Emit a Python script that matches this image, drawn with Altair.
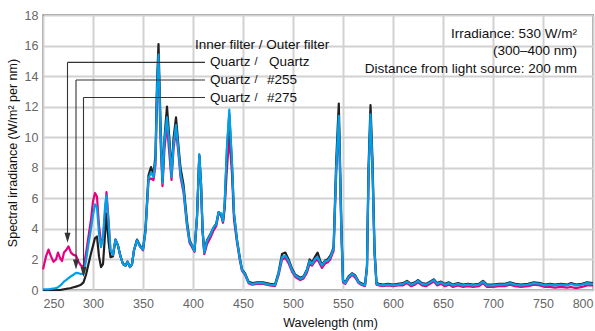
import altair as alt
import pandas as pd

# ---------------- data ----------------
wl_a = [250, 253, 255.5, 258, 260.5, 263, 265, 267, 269, 271, 273, 275.5, 278, 280.5, 283, 285.5,
        288, 290.5, 293, 295.5, 298, 300, 302, 304, 306, 308, 310, 312, 313.5, 315.5, 317.5, 320]
qq_a = [1.35, 2.2, 2.65, 2.2, 1.85, 2.0, 2.45, 2.1, 1.9, 2.45, 2.6, 2.85, 2.45, 2.3, 2.25, 1.85,
        1.6, 1.5, 2.4, 3.5, 4.6, 5.8, 6.35, 6.1, 4.2, 3.2, 3.3, 5.0, 6.4, 4.6, 2.5, 2.4]
q255_a = [0.05, 0.05, 0.05, 0.07, 0.1, 0.12, 0.18, 0.28, 0.4, 0.55, 0.65, 0.78, 0.9, 1.0, 1.12, 1.1,
          1.05, 1.05, 1.9, 3.0, 4.0, 4.9, 5.6, 5.4, 3.7, 2.8, 3.4, 5.4, 6.2, 4.4, 2.6, 2.3]
q275_a = [0, 0, 0, 0, 0, 0, 0, 0, 0.02, 0.05, 0.07, 0.1, 0.13, 0.18, 0.22, 0.28,
          0.35, 0.5, 1.0, 1.7, 2.4, 2.9, 3.4, 3.5, 2.2, 1.5, 1.7, 3.6, 5.0, 3.2, 2.15, 2.2]

wl_b = [322.5, 325, 327.5, 330, 332.5, 334.5, 337, 339, 341, 344, 347, 350, 352.5, 355.5, 358, 360.5,
        362.5, 364, 365.5, 367.5, 369.5, 371.5, 374, 376.5, 378.5, 380.5, 383, 385.5, 387.5, 390.5,
        394, 396.5, 399, 401.5, 404, 406.3, 408, 409.6, 411.3, 414, 417.3, 420.6, 423.3, 425.6, 428,
        430, 431.6, 434, 436.3, 439, 441, 444, 447, 449]
qq_b = [3.3, 2.9, 2.2, 1.7, 1.6, 1.85, 1.5, 1.7, 2.6, 3.25, 2.85, 2.6, 3.8, 7.2, 7.3, 7.2,
        8.2, 12.8, 15.3, 9.8, 6.8, 9.3, 10.8, 8.8, 7.2, 9.2, 10.5, 8.9, 7.4, 6.4,
        4.2, 3.1, 2.8, 2.5, 4.7, 8.8, 6.9, 3.8, 2.35, 3.0, 3.4, 3.9, 4.2, 5.0, 4.9,
        4.4, 5.3, 8.0, 10.0, 7.6, 4.6, 3.1, 1.9, 1.25]
q255_b = [3.3, 2.9, 2.2, 1.7, 1.6, 1.85, 1.5, 1.7, 2.6, 3.25, 2.85, 2.65, 3.9, 7.3, 7.7, 7.4,
          8.5, 13.0, 15.4, 10.5, 7.0, 9.8, 11.3, 9.4, 7.4, 9.5, 10.8, 9.1, 7.6, 6.6,
          4.3, 3.2, 2.9, 2.55, 4.8, 8.9, 7.0, 3.9, 2.45, 3.2, 3.6, 4.1, 4.3, 5.1, 5.0,
          4.5, 5.6, 9.4, 11.8, 8.3, 5.0, 3.25, 2.0, 1.3]
q275_b = [3.3, 2.9, 2.2, 1.7, 1.6, 1.85, 1.5, 1.7, 2.6, 3.3, 2.9, 2.7, 4.0, 7.5, 8.05, 7.6,
          8.8, 13.5, 16.1, 11.0, 7.1, 10.0, 12.0, 9.8, 7.6, 9.9, 11.3, 9.4, 8.0, 6.9,
          4.5, 3.3, 2.9, 2.6, 4.8, 8.8, 7.0, 3.9, 2.5, 3.25, 3.65, 4.1, 4.35, 5.1, 5.0,
          4.5, 5.5, 9.2, 11.5, 8.2, 5.0, 3.3, 2.05, 1.35]

wl_c = [452, 455.5, 459, 464, 470, 477, 482, 485.5, 489, 492.3, 495.6, 499, 502.3, 507.3, 510.6,
        514, 516.6, 519, 522.3, 524.6, 527.3, 529, 532.3, 534.6, 537.3, 539, 540.6, 543.3, 545.8,
        548.3, 550, 552.3, 555.6, 559, 562.3, 565.6, 568, 572, 574, 575.5, 577.5, 579.5, 581.5, 583.5]
qq_c = [1.0, 0.45, 0.35, 0.4, 0.4, 0.3, 0.25, 0.95, 2.0, 2.1, 1.75, 1.2, 0.85, 0.65, 0.75,
        1.15, 1.7, 1.6, 1.9, 2.0, 1.65, 1.45, 1.75, 1.8, 2.0, 2.3, 2.55, 7.8, 11.2,
        3.9, 0.5, 0.4, 0.75, 1.0, 0.8, 0.45, 0.35, 0.25, 1.4, 7.3, 11.3, 7.8, 2.4, 0.35]
q255_c = [1.05, 0.5, 0.4, 0.45, 0.45, 0.35, 0.3, 1.07, 2.15, 2.25, 1.9, 1.3, 0.95, 0.74, 0.85,
          1.3, 1.9, 1.7, 2.05, 2.15, 1.8, 1.6, 1.9, 1.9, 2.15, 2.45, 2.7, 8.1, 11.4,
          4.1, 0.6, 0.45, 0.85, 1.07, 0.9, 0.5, 0.4, 0.3, 1.5, 7.5, 11.5, 8.0, 2.5, 0.4]
q275_c = [1.1, 0.55, 0.45, 0.5, 0.5, 0.4, 0.35, 1.15, 2.35, 2.45, 2.0, 1.4, 1.0, 0.8, 0.9,
          1.35, 2.0, 1.8, 2.2, 2.45, 1.9, 1.65, 1.95, 2.0, 2.25, 2.5, 2.8, 8.6, 12.2,
          4.4, 0.65, 0.5, 0.9, 1.1, 0.95, 0.55, 0.45, 0.35, 1.6, 8.0, 12.1, 8.5, 2.7, 0.45]

wl_d = [586, 590, 595, 600, 605, 610, 614, 618, 622, 625, 629, 633, 637, 641, 644, 648, 652, 656,
        660, 665, 670, 675, 680, 686, 690, 694, 700, 706, 712, 717, 722, 728, 735, 741, 747, 752,
        757, 762, 768, 774, 778, 783, 789, 794, 800]
qq_d = [0.3, 0.25, 0.3, 0.25, 0.3, 0.3, 0.45, 0.25, 0.35, 0.5, 0.3, 0.25, 0.4, 0.55, 0.3, 0.4, 0.25, 0.35,
        0.2, 0.3, 0.2, 0.25, 0.2, 0.25, 0.45, 0.2, 0.2, 0.25, 0.25, 0.35, 0.25, 0.2, 0.25, 0.35, 0.3, 0.2,
        0.2, 0.15, 0.2, 0.15, 0.2, 0.12, 0.2, 0.3, 0.3]
q255_d = [0.35, 0.3, 0.35, 0.3, 0.35, 0.4, 0.55, 0.35, 0.45, 0.6, 0.4, 0.35, 0.5, 0.65, 0.4, 0.5, 0.35, 0.45,
          0.3, 0.4, 0.3, 0.35, 0.3, 0.35, 0.55, 0.3, 0.3, 0.35, 0.35, 0.45, 0.35, 0.3, 0.35, 0.45, 0.4, 0.3,
          0.35, 0.3, 0.35, 0.3, 0.4, 0.3, 0.35, 0.45, 0.4]
q275_d = [0.4, 0.35, 0.4, 0.35, 0.4, 0.45, 0.6, 0.4, 0.5, 0.65, 0.45, 0.4, 0.55, 0.7, 0.45, 0.55, 0.4, 0.5,
          0.35, 0.45, 0.35, 0.4, 0.35, 0.4, 0.6, 0.35, 0.35, 0.4, 0.4, 0.5, 0.4, 0.35, 0.4, 0.5, 0.45, 0.35,
          0.4, 0.35, 0.4, 0.35, 0.45, 0.35, 0.4, 0.5, 0.45]

# draw order: magenta (Quartz/Quartz), black (#275), cyan (#255) on top
draw_order = ["Quartz / Quartz", "Quartz / #275", "Quartz / #255"]
order_colors = {"Quartz / Quartz": "#e5007f", "Quartz / #275": "#231f20", "Quartz / #255": "#00a0e9"}

# annotation: leader lines (wavelength of arrow, level of horizontal line, arrow tip)
arrow_x = [274.5, 283.0, 290.5]
arrow_level = [14.9, 13.75, 12.6]
arrow_tip = [3.1, 1.35, 0.85]
leader_end = 412.0
label_left = ["Quartz", "Quartz", "Quartz"]
label_right = ["Quartz", "#255", "#275"]
label_right_x = [476, 474, 474]
header_text = "Inner filter / Outer filter"
info_text = ["Irradiance: 530 W/m\u00b2", "(300\u2013400 nm)", "Distance from light source: 200 mm"]
info_level = [16.75, 15.65, 14.45]

x_ticks = list(range(250, 801, 50))
y_ticks = list(range(0, 19, 2))

# ---------------- build tables ----------------
wl = wl_a + wl_b + wl_c + wl_d
vals = {
    "Quartz / Quartz": qq_a + qq_b + qq_c + qq_d,
    "Quartz / #255": q255_a + q255_b + q255_c + q255_d,
    "Quartz / #275": q275_a + q275_b + q275_c + q275_d,
}

FONT = "Liberation Sans"
xscale = alt.Scale(domain=[250, 800], nice=False, zero=False)
yscale = alt.Scale(domain=[0, 18], nice=False)
x_axis = alt.Axis(values=x_ticks, title="Wavelength (nm)", labelFlush=True,
                  labelPadding=7, titlePadding=7, titleX=287)
y_axis = alt.Axis(values=y_ticks, title="Spectral irradiance (W/m\u00b2 per nm)",
                  labelPadding=5, titlePadding=5)


def X(field):
    return alt.X(field, scale=xscale, axis=x_axis)


def Y(field):
    return alt.Y(field, scale=yscale, axis=y_axis)


layers = []
for name in draw_order:
    df = pd.DataFrame({"wl": wl, "v": vals[name]})
    layers.append(
        alt.Chart(df).mark_line(color=order_colors[name], strokeWidth=2.2, strokeJoin="round")
        .encode(x=X("wl:Q"), y=Y("v:Q"))
    )

seg_df = pd.DataFrame({
    "wl": arrow_x + arrow_x,
    "wl2": [leader_end] * 3 + arrow_x,
    "v": arrow_level + arrow_level,
    "v2": arrow_level + [t + 0.3 for t in arrow_tip],
})
leaders = alt.Chart(seg_df).mark_rule(color="#333333", strokeWidth=1.1).encode(
    x=X("wl:Q"), x2="wl2:Q", y=Y("v:Q"), y2="v2:Q",
)

head_df = pd.DataFrame({"wl": arrow_x, "v": arrow_tip})
heads = alt.Chart(head_df).mark_point(
    shape="M-0.3,-1L0.3,-1L0,0Z", filled=True, size=400, color="#333333", opacity=1
).encode(x=X("wl:Q"), y=Y("v:Q"))


def text_layer(df, align, size=13.5):
    return alt.Chart(df).mark_text(align=align, baseline="middle", font=FONT, fontSize=size,
                                   color="#111111").encode(x=X("wl:Q"), y=Y("v:Q"), text="t:N")


labs_l = text_layer(pd.DataFrame({"wl": [417] * 3, "v": arrow_level, "t": label_left}), "left")
labs_s = text_layer(pd.DataFrame({"wl": [463] * 3, "v": arrow_level, "t": ["/"] * 3}), "center", 11)
labs_r = text_layer(pd.DataFrame({"wl": label_right_x, "v": arrow_level, "t": label_right}), "left")
head_lab = text_layer(pd.DataFrame({"wl": [402], "v": [16.05], "t": [header_text]}), "left")
info = text_layer(pd.DataFrame({"wl": [784] * 3, "v": info_level, "t": info_text}), "right")

chart = alt.layer(*layers, leaders, heads, labs_l, labs_s, labs_r, head_lab, info).properties(
    width=550, height=275,
    autosize=alt.AutoSizeParams(type="none"),
    padding={"left": 43, "top": 15, "right": 2, "bottom": 41},
    background="white",
).configure_view(
    stroke="#222222", strokeWidth=1.3
).configure_axis(
    grid=True, gridColor="#d2d2d2", gridWidth=2, domain=False, ticks=False,
    labelFont=FONT, labelFontSize=12.5, labelColor="#666666",
    titleFont=FONT, titleFontSize=12.5, titleFontWeight="normal", titleColor="#111111",
)

chart.save("out.html", embed_options={"renderer": "svg", "actions": False})
